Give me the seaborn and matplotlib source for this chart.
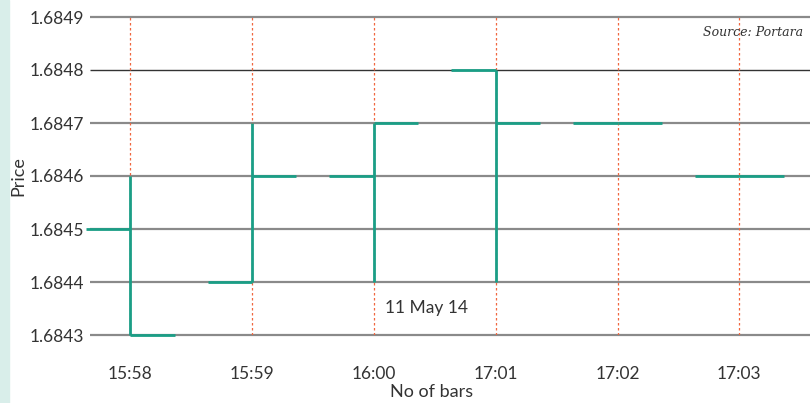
import numpy as np
import pandas as pd
import matplotlib
matplotlib.use("Agg")
import matplotlib.pyplot as plt
import seaborn as sns

# ---- data ----
times = ["15:58", "15:59", "16:00", "17:01", "17:02", "17:03"]
opens = [1.6845, 1.6844, 1.6846, 1.6848, 1.6847, 1.6846]
highs = [1.6846, 1.6847, 1.6847, 1.6848, 1.6847, 1.6846]
lows = [1.6843, 1.6844, 1.6844, 1.6844, 1.6847, 1.6846]
closes = [1.6843, 1.6846, 1.6847, 1.6847, 1.6847, 1.6846]
yticks = [1.6843, 1.6844, 1.6845, 1.6846, 1.6847, 1.6848, 1.6849]

sns.set_theme(style="white")
plt.rcParams['font.family'] = ['Lato', 'DejaVu Sans']

fig = plt.figure(figsize=(8.1, 4.03), dpi=100)
# light teal strip on the left
fig.patches.append(plt.Rectangle((0, 0), 9 / 810, 1, transform=fig.transFigure,
                                 color="#d9eeea", zorder=-5))
ax = fig.add_axes([90 / 810, 68 / 403, 720 / 810, 318 / 403])

x = np.arange(len(times))
tick_w = 0.365
teal = "#1a9e86"

# build segment table for seaborn
rows = []
for i, (o, h, l, c) in enumerate(zip(opens, highs, lows, closes)):
    rows.append(dict(seg=f"o{i}", x=x[i] - tick_w, y=o))
    rows.append(dict(seg=f"o{i}", x=x[i], y=o))
    rows.append(dict(seg=f"c{i}", x=x[i], y=c))
    rows.append(dict(seg=f"c{i}", x=x[i] + tick_w, y=c))
    if h != l:
        rows.append(dict(seg=f"v{i}", x=x[i], y=l))
        rows.append(dict(seg=f"v{i}", x=x[i], y=h))
df = pd.DataFrame(rows)

# gridlines
for yt in yticks:
    if abs(yt - 1.6848) < 1e-9:
        ax.axhline(yt, color="#333333", lw=1.0, zorder=1)
    else:
        ax.axhline(yt, color="#8a8a8a", lw=1.6, zorder=1)

# red dotted verticals
ax.vlines(x, yticks[0], yticks[-1], colors="#f0663f", linestyles=(0, (2, 2)),
          lw=0.9, zorder=2)

sns.lineplot(data=df, x="x", y="y", units="seg", estimator=None, sort=False,
             color=teal, lw=2.0, ax=ax, zorder=3, legend=False)
for line in ax.lines:
    line.set_clip_on(False)
    line.set_solid_capstyle("butt")

ax.set_xlim(-0.33, 5.58)
ax.set_ylim(yticks[0], yticks[-1])
ax.set_xticks(x)
ax.set_xticklabels(times)
ax.set_yticks(yticks)
ax.set_yticklabels([f"{v:.4f}" for v in yticks])
ax.tick_params(axis="both", length=0, labelsize=12.5, colors="#333333")
ax.tick_params(axis="x", pad=22)
ax.tick_params(axis="y", pad=4)
for s in ax.spines.values():
    s.set_visible(False)

ax.set_xlabel("No of bars", fontsize=13, color="#333333")
ax.xaxis.set_label_coords((432 - 90) / 720, -(384 - 335) / 318)
ax.set_ylabel("Price", fontsize=13, color="#333333")
ax.yaxis.set_label_coords(-(90 - 26) / 720, 0.5)

ax.text(2.43, 1.68435, "11 May 14", fontsize=12.5, color="#333333",
        ha="center", va="center")
fig.text(803 / 810, 1 - 32 / 403, "Source: Portara", fontsize=9, color="#333333",
         family="DejaVu Serif", style="italic", ha="right", va="center")

fig.savefig("out.png", dpi=100)
